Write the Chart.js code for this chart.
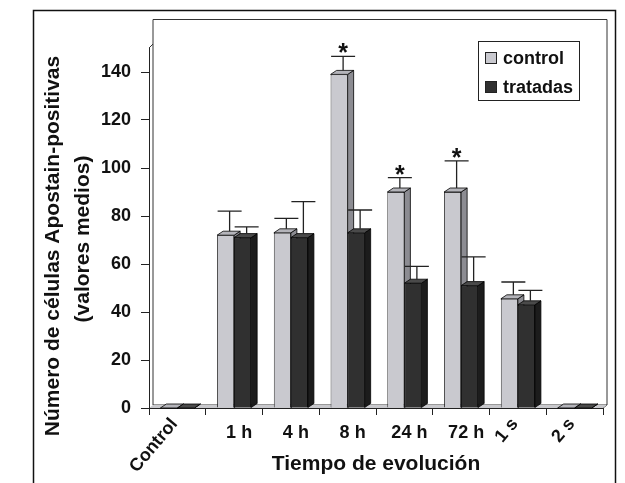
<!DOCTYPE html>
<html>
<head>
<meta charset="utf-8">
<script src="https://cdn.jsdelivr.net/npm/chart.js@4"></script>
<style>
  html, body { margin: 0; padding: 0; background: #fff; }
  #wrap { width: 625px; height: 483px; }
</style>
</head>
<body>
<div id="wrap"><canvas id="chart" width="625" height="483"></canvas></div>
<script>
// ── Data ──────────────────────────────────────────────────────────────────
const categories   = ['Control', '1 h', '4 h', '8 h', '24 h', '72 h', '1 s', '2 s'];
const controlVals  = [0, 72, 73, 139, 90, 90, 45.5, 0];
const controlErr   = [0, 10, 6, 7.5, 6, 13, 7, 0];
const treatedVals  = [0, 71, 71, 73, 52, 51, 43, 0];
const treatedErr   = [0, 4.5, 15, 9.5, 7, 12, 6, 0];
const significant  = [false, false, false, true, true, true, false, false];
const rotatedCats  = ['Control', '1 s', '2 s'];
const yTitleLines  = ['Número de células Apostain-positivas', '(valores medios)'];

const FONT = "'Liberation Sans', Arial, sans-serif";
const DX = 6, DY = 4;   // 3D depth of the bars

// ── Plugins ───────────────────────────────────────────────────────────────
const framePlugin = {
  id: 'frame',
  beforeDraw(chart) {
    const { ctx, chartArea: ca } = chart;
    ctx.save();
    ctx.fillStyle = '#fff';
    ctx.fillRect(0, 0, chart.width, chart.height);
    // outer frame
    ctx.strokeStyle = '#111';
    ctx.lineWidth = 1.5;
    ctx.strokeRect(33.5, 10.5, 582, 520);
    // back wall + side wall + floor
    ctx.lineWidth = 1;
    ctx.strokeStyle = '#333';
    const wl = ca.left + 4, wt = 19.5, wr = ca.right + 4, fb = ca.bottom - 3;
    ctx.beginPath();
    ctx.moveTo(wl, fb); ctx.lineTo(wl, wt); ctx.lineTo(wr, wt); ctx.lineTo(wr, fb);
    ctx.moveTo(ca.left, ca.top); ctx.lineTo(wl, ca.top - 4);
    ctx.moveTo(wl, fb); ctx.lineTo(wr, fb); ctx.lineTo(ca.right, ca.bottom);
    ctx.stroke();
    ctx.fillStyle = '#c8c8cc';
    ctx.beginPath();
    ctx.moveTo(ca.left, ca.bottom); ctx.lineTo(wl, fb); ctx.lineTo(wr, fb); ctx.lineTo(ca.right, ca.bottom);
    ctx.closePath();
    ctx.fill();
    ctx.restore();
  }
};

function drawFaces(ctx, ds, bar) {
  const { x, y, base, width } = bar.getProps(['x', 'y', 'base', 'width'], true);
  const l = x - width / 2, r = x + width / 2;
  ctx.fillStyle = ds.sideColor;
  ctx.beginPath();
  ctx.moveTo(r, y); ctx.lineTo(r + DX, y - DY); ctx.lineTo(r + DX, base - DY); ctx.lineTo(r, base);
  ctx.closePath(); ctx.fill(); ctx.stroke();
  ctx.fillStyle = ds.topColor;
  ctx.beginPath();
  ctx.moveTo(l, y); ctx.lineTo(l + DX, y - DY); ctx.lineTo(r + DX, y - DY); ctx.lineTo(r, y);
  ctx.closePath(); ctx.fill(); ctx.stroke();
}

// side/top faces: control first, then the treated bar is drawn again on top
const bar3dPlugin = {
  id: 'bar3d',
  afterDatasetsDraw(chart) {
    const { ctx } = chart;
    const [c, t] = [chart.getDatasetMeta(0), chart.getDatasetMeta(1)];
    const [dc, dt] = chart.data.datasets;
    ctx.save();
    ctx.lineWidth = 0.8;
    ctx.strokeStyle = '#000';
    c.data.forEach((bar, i) => {
      drawFaces(ctx, dc, bar);
      t.data[i].draw(ctx, chart.chartArea);
      ctx.lineWidth = 0.8;
      ctx.strokeStyle = '#000';
      drawFaces(ctx, dt, t.data[i]);
    });
    ctx.restore();
  }
};

const errorPlugin = {
  id: 'errors',
  afterDatasetsDraw(chart) {
    const { ctx, scales: { y: ys } } = chart;
    ctx.save();
    ctx.strokeStyle = '#222';
    ctx.lineWidth = 1.3;
    chart.data.datasets.forEach((ds, di) => {
      const meta = chart.getDatasetMeta(di);
      meta.data.forEach((bar, i) => {
        if (!ds.data[i]) return;
        const ex = bar.x + 4;
        const top = ys.getPixelForValue(ds.data[i] + ds.errors[i]);
        ctx.beginPath();
        ctx.moveTo(ex, bar.y - DY); ctx.lineTo(ex, top);
        ctx.moveTo(ex - 12, top); ctx.lineTo(ex + 12, top);
        ctx.stroke();
        if (ds.marks && ds.marks[i]) {
          ctx.fillStyle = '#111';
          ctx.font = 'bold 25px ' + FONT;
          ctx.textAlign = 'center';
          ctx.textBaseline = 'alphabetic';
          ctx.fillText('*', ex, top + 5);
        }
      });
    });
    ctx.restore();
  }
};

const labelPlugin = {
  id: 'labels',
  afterDraw(chart) {
    const { ctx, scales: { x: xs } } = chart;
    ctx.save();
    ctx.fillStyle = '#111';
    ctx.font = 'bold 18px ' + FONT;
    categories.forEach((c, i) => {
      const x = xs.getPixelForValue(i);
      if (rotatedCats.includes(c)) {
        ctx.save();
        ctx.translate(x - 3, 421);
        ctx.rotate(-50 * Math.PI / 180);
        ctx.textAlign = 'right';
        ctx.textBaseline = 'middle';
        ctx.fillText(c, 0, 0);
        ctx.restore();
      } else {
        ctx.textAlign = 'center';
        ctx.textBaseline = 'middle';
        ctx.fillText(c, x + 5, 433);
      }
    });
    // y axis title
    ctx.font = 'bold 21px ' + FONT;
    ctx.textAlign = 'center';
    ctx.textBaseline = 'middle';
    [[53, 246], [83, 239]].forEach(([tx, ty], k) => {
      ctx.save();
      ctx.translate(tx, ty);
      ctx.rotate(-Math.PI / 2);
      ctx.fillText(yTitleLines[k], 0, 0);
      ctx.restore();
    });
    // legend
    ctx.lineWidth = 1;
    ctx.strokeStyle = '#222';
    ctx.strokeRect(478.5, 41.5, 101, 59);
    ctx.font = 'bold 18px ' + FONT;
    ctx.textAlign = 'left';
    chart.data.datasets.forEach((ds, k) => {
      const cy = 58 + k * 29;
      ctx.fillStyle = ds.backgroundColor;
      ctx.fillRect(485, cy - 6, 12, 12);
      ctx.strokeRect(485.5, cy - 5.5, 11, 11);
      ctx.fillStyle = '#111';
      ctx.fillText(ds.label, 503, cy + 1);
    });
    ctx.restore();
  }
};

// ── Chart ─────────────────────────────────────────────────────────────────
new Chart(document.getElementById('chart').getContext('2d'), {
  type: 'bar',
  data: {
    labels: categories,
    datasets: [{
      label: 'control',
      data: controlVals,
      errors: controlErr,
      marks: significant,
      backgroundColor: '#c9c9cf',
      sideColor: '#8c8c92',
      topColor: '#b4b4ba',
      borderColor: '#000',
      borderWidth: 0.8
    }, {
      label: 'tratadas',
      data: treatedVals,
      errors: treatedErr,
      backgroundColor: '#303030',
      sideColor: '#1c1c1c',
      topColor: '#4a4a4a',
      borderColor: '#000',
      borderWidth: 0.8
    }]
  },
  options: {
    responsive: false,
    animation: false,
    layout: { padding: { left: 0, right: 22, top: 48, bottom: 0 } },
    plugins: { legend: { display: false }, tooltip: { enabled: false } },
    datasets: { bar: { barPercentage: 1, categoryPercentage: 0.6 } },
    scales: {
      x: {
        grid: { display: true, drawOnChartArea: false, offset: true, color: '#222', tickLength: 7 },
        border: { display: true, color: '#222', width: 1 },
        ticks: { display: false },
        title: {
          display: true, text: 'Tiempo de evolución', color: '#111',
          font: { family: FONT, size: 21, weight: 'bold' }, padding: { top: 0, bottom: 6 }
        },
        afterFit: s => { s.height = 75; }
      },
      y: {
        min: 0, max: 150,
        ticks: { stepSize: 20, color: '#111', padding: 10, font: { family: FONT, size: 18, weight: 'bold' } },
        afterBuildTicks: s => { s.ticks = s.ticks.filter(t => t.value <= 140); },
        grid: { drawOnChartArea: false, color: '#222', tickLength: 8 },
        border: { display: true, color: '#222', width: 1 },
        afterFit: s => { s.width = 149; }
      }
    }
  },
  plugins: [framePlugin, bar3dPlugin, errorPlugin, labelPlugin]
});
</script>
</body>
</html>
